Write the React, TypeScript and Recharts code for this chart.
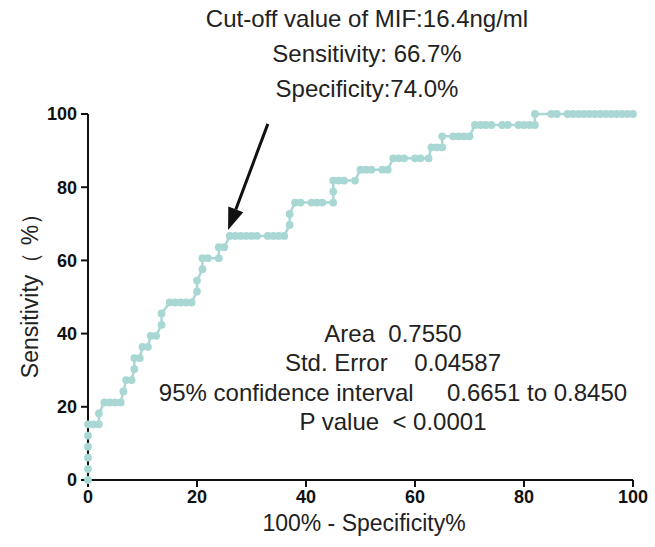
import React from 'react';
import { LineChart, Line, XAxis, YAxis, ReferenceLine, Customized } from 'recharts';

// ROC curve points (100% - specificity, sensitivity)
const fpr = [
  0, 0, 0, 0, 0, 0, 1, 2, 2, 3, 4, 5, 6, 6.5, 7, 8, 8.5, 8.5, 9.5, 10, 11, 11.5, 12.5, 13.5, 13.5,
  15, 16, 17, 18, 19, 20, 20, 21, 21, 22, 24, 24, 25, 26, 27, 28, 29, 30, 31, 33, 34, 35, 36,
  37, 37, 38, 39, 41, 42, 43, 45, 45, 45, 46, 47, 49, 50, 51, 52, 54, 55, 56, 57, 58, 60, 61,
  62.5, 63, 64, 65, 65, 67, 68, 69, 70, 71, 72, 73, 74, 76, 77, 79, 80, 81, 82, 82, 85, 86, 88,
  89, 90, 91, 92, 93, 94, 95, 96, 97, 98, 99, 100,
];
const sens = [
  0, 3.0, 6.1, 9.1, 12.1, 15.2, 15.2, 15.2, 18.2, 21.2, 21.2, 21.2, 21.2, 24.2, 27.3, 27.3, 30.3,
  33.3, 33.3, 36.4, 36.4, 39.4, 39.4, 42.4, 45.5, 48.5, 48.5, 48.5, 48.5, 48.5, 51.5, 54.5, 57.6,
  60.6, 60.6, 60.6, 63.6, 63.6, 66.7, 66.7, 66.7, 66.7, 66.7, 66.7, 66.7, 66.7, 66.7, 66.7, 69.7,
  72.7, 75.8, 75.8, 75.8, 75.8, 75.8, 75.8, 78.8, 81.8, 81.8, 81.8, 81.8, 84.8, 84.8, 84.8, 84.8,
  84.8, 87.9, 87.9, 87.9, 87.9, 87.9, 87.9, 90.9, 90.9, 90.9, 93.9, 93.9, 93.9, 93.9, 93.9, 97.0,
  97.0, 97.0, 97.0, 97.0, 97.0, 97.0, 97.0, 97.0, 97.0, 100, 100, 100, 100, 100, 100, 100, 100,
  100, 100, 100, 100, 100, 100, 100, 100,
];
const xTicks = [0, 20, 40, 60, 80, 100];
const yTicks = [0, 20, 40, 60, 80, 100];

const cutoffLines = ['Cut-off value of MIF:16.4ng/ml', 'Sensitivity: 66.7%', 'Specificity:74.0%'];
const statLines = ['Area  0.7550', 'Std. Error    0.04587', '95% confidence interval     0.6651 to 0.8450', 'P value  < 0.0001'];

// arrow pointing at the cut-off point: [start, tip]
const arrow = [{ x: 33, y: 97.3 }, { x: 25.7, y: 68.3 }];

const data = fpr.map((x, i) => ({ x, y: sens[i] }));

const FONT = '"Liberation Sans", Arial, Helvetica, sans-serif';
const CURVE = '#a9d7d3';

function ArrowShape(props: any) {
  const { x1, y1, x2, y2 } = props;
  if (x1 == null || x2 == null) return null;
  const ang = Math.atan2(y2 - y1, x2 - x1);
  const len = 22;
  const half = 8;
  const bx = x2 - len * Math.cos(ang);
  const by = y2 - len * Math.sin(ang);
  const px = -Math.sin(ang) * half;
  const py = Math.cos(ang) * half;
  return (
    <g>
      <line x1={x1} y1={y1} x2={bx} y2={by} stroke="#111" strokeWidth={3} />
      <polygon points={`${x2},${y2} ${bx + px},${by + py} ${bx - px},${by - py}`} fill="#111" />
    </g>
  );
}

function Annotations() {
  return (
    <g fontFamily={FONT} fill="#222">
      {cutoffLines.map((t, i) => (
        <text key={t} x={367} y={18 + i * 35} textAnchor="middle" dominantBaseline="central" fontSize={24}>
          {t}
        </text>
      ))}
      {statLines.map((t, i) => (
        <text
          key={t}
          x={393}
          y={333 + i * 29.5}
          textAnchor="middle"
          dominantBaseline="central"
          fontSize={24}
          xmlSpace="preserve"
        >
          {t}
        </text>
      ))}
      <text x={364} y={523} textAnchor="middle" dominantBaseline="central" fontSize={23}>
        100% - Specificity%
      </text>
      <text
        x={30}
        y={290}
        textAnchor="middle"
        dominantBaseline="central"
        fontSize={23}
        transform="rotate(-90 30 290)"
        xmlSpace="preserve"
      >
        Sensitivity（ %）
      </text>
    </g>
  );
}

export default function App() {
  return (
    <div style={{ position: 'absolute', left: 0, top: 0, background: '#fff' }}>
      <LineChart width={655} height={547} data={data} margin={{ top: 114, right: 22, bottom: 27, left: 0 }}>
        <XAxis
          dataKey="x"
          type="number"
          domain={[0, 100]}
          ticks={xTicks}
          interval={0}
          axisLine={{ stroke: '#111', strokeWidth: 2 }}
          tickLine={{ stroke: '#111', strokeWidth: 2 }}
          tickSize={7}
          tickMargin={3}
          tick={{ fill: '#111', fontSize: 18, fontWeight: 'bold', fontFamily: FONT }}
          height={40}
        />
        <YAxis
          type="number"
          domain={[0, 100]}
          ticks={yTicks}
          interval={0}
          axisLine={{ stroke: '#111', strokeWidth: 2 }}
          tickLine={{ stroke: '#111', strokeWidth: 2 }}
          tickSize={7}
          tickMargin={4}
          tick={{ fill: '#111', fontSize: 18, fontWeight: 'bold', fontFamily: FONT }}
          width={88}
        />
        <Line
          type="linear"
          dataKey="y"
          stroke={CURVE}
          strokeWidth={2.5}
          dot={{ r: 3.9, fill: CURVE, stroke: CURVE, strokeWidth: 0 }}
          activeDot={false}
          isAnimationActive={false}
        />
        <ReferenceLine segment={arrow} shape={ArrowShape} ifOverflow="visible" />
        <Customized component={Annotations} />
      </LineChart>
    </div>
  );
}
